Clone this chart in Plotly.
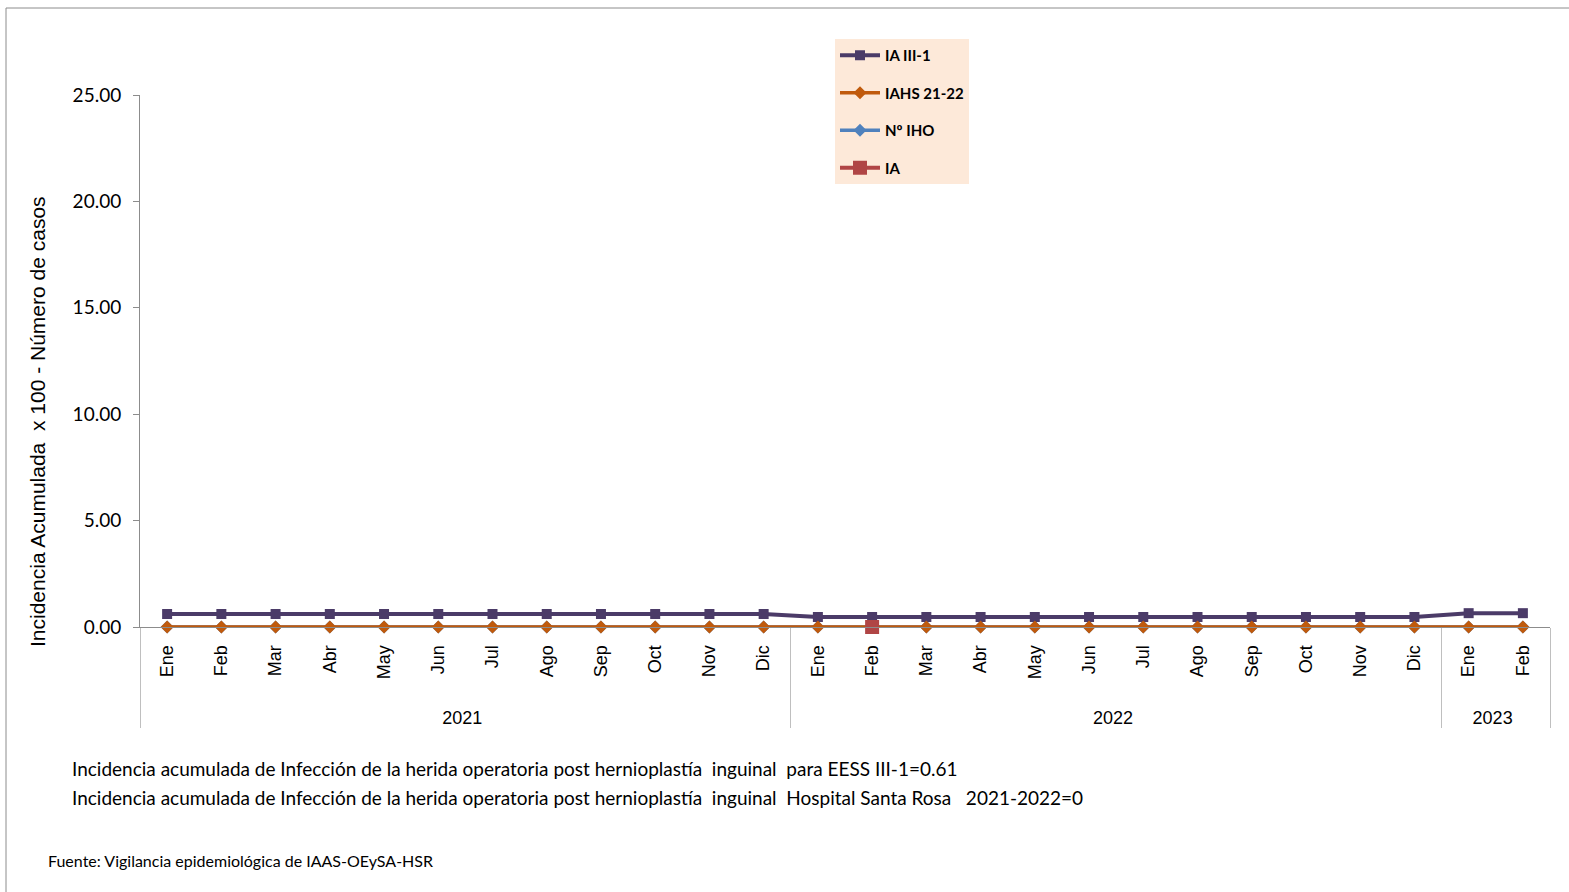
import plotly.graph_objects as go

MONTHS = ["Ene", "Feb", "Mar", "Abr", "May", "Jun", "Jul", "Ago", "Sep", "Oct", "Nov", "Dic",
          "Ene", "Feb", "Mar", "Abr", "May", "Jun", "Jul", "Ago", "Sep", "Oct", "Nov", "Dic",
          "Ene", "Feb"]
YEARS = ["2021"] * 12 + ["2022"] * 12 + ["2023"] * 2

IA_III1 = [0.61] * 12 + [0.47] * 12 + [0.65] * 2
IAHS_2122 = [0.0] * 26
N_IHO = [0.0] * 26
IA = [None] * 13 + [0.0] + [None] * 12

Y_TICKS = [0, 5, 10, 15, 20, 25]

NOTE_1 = "Incidencia acumulada de Infección de la herida operatoria post hernioplastía  inguinal  para EESS III-1=0.61"
NOTE_2 = "Incidencia acumulada de Infección de la herida operatoria post hernioplastía  inguinal  Hospital Santa Rosa   2021-2022=0"
SOURCE = "Fuente: Vigilancia epidemiológica de IAAS-OEySA-HSR"

W, H = 1569, 892
L, R, T, B = 140, 19, 95, 265
NBSP = "\u00a0"


def px_x(x):
    return (x - L) / (W - L - R)


def px_y(y):
    return (H - B - y) / (H - T - B)


def main():
    x = [YEARS, MONTHS]
    fig = go.Figure()

    fig.add_trace(go.Scatter(
        x=x, y=N_IHO, name="Nº IHO", mode="lines+markers", legendgroup="c",
        line=dict(color="#4F81BD", width=3.5),
        marker=dict(symbol="diamond", size=10, color="#4F81BD"),
        legendrank=3, cliponaxis=False,
    ))
    fig.add_trace(go.Scatter(
        x=x, y=IA_III1, name="IA III-1", mode="lines+markers", legendgroup="a",
        line=dict(color="#4B3B68", width=4),
        marker=dict(symbol="square", size=10, color="#4B3B68"),
        legendrank=1, cliponaxis=False,
    ))
    fig.add_trace(go.Scatter(
        x=x, y=IAHS_2122, name="IAHS 21-22", mode="lines+markers", legendgroup="b",
        line=dict(color="#C05A0C", width=3.5),
        marker=dict(symbol="diamond", size=10, color="#C05A0C"),
        legendrank=2, cliponaxis=False,
    ))
    fig.add_trace(go.Scatter(
        x=x, y=IA, name="IA", mode="lines+markers", legendgroup="d",
        line=dict(color="#B04545", width=4),
        marker=dict(symbol="square", size=14, color="#B04545"),
        legendrank=4, cliponaxis=False,
    ))

    fig.update_layout(
        width=W, height=H,
        margin=dict(l=L, r=R, t=T, b=B),
        paper_bgcolor="white", plot_bgcolor="white",
        font=dict(family="Lato", size=16, color="#000000"),
        legend=dict(
            x=px_x(835), y=px_y(39), xanchor="left", yanchor="top",
            bgcolor="#FDE9D9", borderwidth=0,
            font=dict(family="Lato", size=15, color="#000000", weight="bold"),
            tracegroupgap=15, itemwidth=40,
        ),
    )

    fig.update_yaxes(
        range=[0, 25], tickvals=Y_TICKS, tickformat=".2f",
        showgrid=False, zeroline=False,
        showline=True, linecolor="#8C8C8C", linewidth=1,
        ticks="outside", ticklen=6, tickcolor="#8C8C8C",
        ticklabelstandoff=8,
        tickfont=dict(family="Lato", size=19),
    )
    fig.update_xaxes(
        type="multicategory", tickangle=-90, range=[-0.5, 25.5],
        showgrid=False, showline=True, linecolor="#8C8C8C", linewidth=1,
        tickprefix=NBSP * 2, ticksuffix=NBSP * 2,
        showdividers=True, dividercolor="#BFBFBF", dividerwidth=1,
        tickfont=dict(family="Liberation Sans", size=18),
    )

    fig.add_annotation(
        x=px_x(37), y=px_y(422), xref="paper", yref="paper",
        xanchor="center", yanchor="middle",
        text="Incidencia Acumulada  x 100 - Número de casos", textangle=-90,
        showarrow=False, font=dict(family="Liberation Sans", size=21),
    )
    fig.add_annotation(
        x=px_x(70), y=px_y(768), xref="paper", yref="paper",
        xanchor="left", yanchor="middle",
        text=NOTE_1, showarrow=False, font=dict(family="Lato", size=19),
    )
    fig.add_annotation(
        x=px_x(70), y=px_y(797), xref="paper", yref="paper",
        xanchor="left", yanchor="middle",
        text=NOTE_2, showarrow=False, font=dict(family="Lato", size=19),
    )
    fig.add_annotation(
        x=px_x(46), y=px_y(860), xref="paper", yref="paper",
        xanchor="left", yanchor="middle",
        text=SOURCE, showarrow=False, font=dict(family="Lato", size=16),
    )
    fig.add_shape(
        type="rect", xref="paper", yref="paper",
        x0=px_x(6), x1=px_x(1575), y0=px_y(900), y1=px_y(8),
        line=dict(color="#8C8C8C", width=1), layer="below",
    )

    fig.write_html(
        "out.html",
        config={"displayModeBar": False},
        post_script="document.body.style.margin='0';",
    )


if __name__ == "__main__":
    main()
